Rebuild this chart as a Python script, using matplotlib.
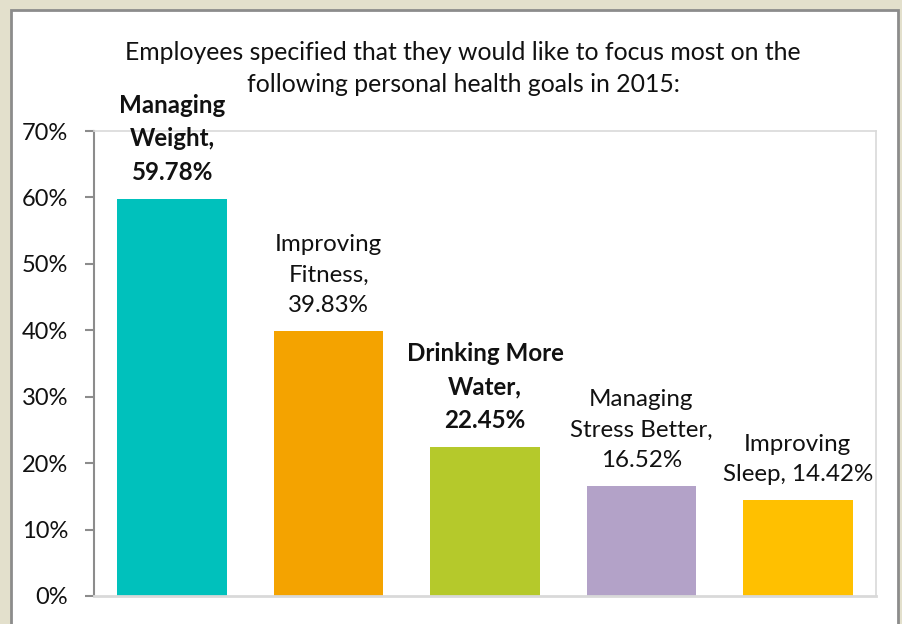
import matplotlib
matplotlib.use("Agg")
import matplotlib.pyplot as plt
from matplotlib.patches import Rectangle
from matplotlib.ticker import FuncFormatter

categories = ["Managing\nWeight,", "Improving\nFitness,", "Drinking More\nWater,",
              "Managing\nStress Better,", "Improving\nSleep,"]
values = [59.78, 39.83, 22.45, 16.52, 14.42]
bold = [True, False, True, False, False]
colors = ["#00C1BC", "#F4A300", "#B5C92B", "#B3A2C8", "#FFC000"]
yticks = [0, 10, 20, 30, 40, 50, 60, 70]
title = "Employees specified that they would like to focus most on the\nfollowing personal health goals in 2015:"

W, H = 903, 624
fig = plt.figure(figsize=(W / 100, H / 100), dpi=100)
fig.patch.set_facecolor("#E3E0CC")
plt.rcParams['font.family'] = ['Lato', 'DejaVu Sans']

# white panel with grey border (extends below the bottom edge)
panel = Rectangle((11 / W, -0.05), (898 - 11) / W, (H - 10) / H + 0.05, transform=fig.transFigure,
                  facecolor="white", edgecolor="#8C8C8C", linewidth=2, zorder=-5)
fig.patches.append(panel)

ax = fig.add_axes([94 / W, (H - 596) / H, (876 - 94) / W, (596 - 131) / H])
ax.patch.set_alpha(0)
ax.set_xlim(-0.5, len(values) - 0.5)
ax.set_ylim(0, 70)
x = range(len(values))
ax.bar(x, values, width=0.7, color=colors, zorder=2)

ax.set_yticks(yticks)
ax.yaxis.set_major_formatter(FuncFormatter(lambda v, p: f"{v:.0f}%"))
ax.set_xticks([])
ax.tick_params(axis='y', length=6.5, width=1.5, color="#8C8C8C", labelsize=17, pad=12,
               labelcolor="#111111")
for s in ["top", "right"]:
    ax.spines[s].set_color("#D9D9D9")
    ax.spines[s].set_linewidth(1.2)
ax.spines["bottom"].set_color("#D9D9D9")
ax.spines["bottom"].set_linewidth(2)
ax.spines["left"].set_color("#8C8C8C")
ax.spines["left"].set_linewidth(1.5)

for i, (c, v) in enumerate(zip(categories, values)):
    if c.endswith("Sleep,"):
        txt = "Improving\nSleep, " + f"{v:.2f}%"
    else:
        txt = c + "\n" + f"{v:.2f}%"
    ax.annotate(txt, (i, v), xytext=(0, 11), textcoords="offset points",
                ha="center", va="bottom", multialignment="center",
                fontsize=17.4, fontweight="bold" if bold[i] else "normal",
                linespacing=1.55, color="#111111", annotation_clip=False, zorder=3)

fig.text(463 / W, 1 - 68.5 / H, title, ha="center", va="center", fontsize=17.8,
         linespacing=1.45, color="#111111")

fig.savefig("out.png", dpi=100, facecolor=fig.get_facecolor())
